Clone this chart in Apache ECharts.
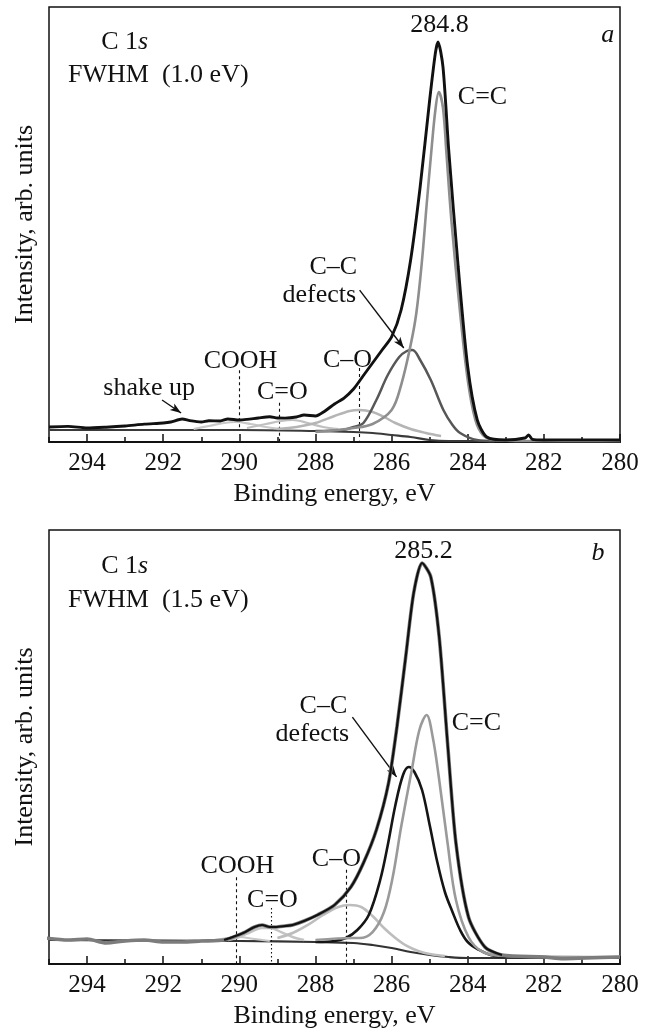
<!DOCTYPE html>
<html><head><meta charset="utf-8">
<script src="https://cdn.jsdelivr.net/npm/echarts@6.0.0/dist/echarts.min.js"></script>
<style>html,body{margin:0;padding:0;background:#fff}#c{width:656px;height:1032px}</style>
</head><body><div id="c"></div>
<script>
// ================= DATA (binding energy eV, intensity arb. units) =================
// ---- panel a ----
const A_RAW_E = [295.0,294.5,294.0,293.5,293.0,292.5,292.0,291.8,291.5,291.3,291.0,290.8,290.5,290.3,290.0,289.8,289.5,289.2,289.0,288.8,288.5,288.3,288.0,287.75,287.5,287.25,287.0,286.75,286.5,286.25,286.0,285.75,285.5,285.25,285.0,284.85,284.78,284.65,284.5,284.25,284.0,283.75,283.5,283.0,282.5,282.4,282.3,282.0,281.0,280.0];
const A_RAW_I = [3.45,3.6,3.22,3.4,3.68,4.1,4.37,4.6,5.29,4.9,4.6,4.9,4.83,5.3,5.06,5.2,5.52,5.8,5.52,5.5,5.75,6.2,5.98,7.13,8.74,10.11,12.18,15.17,18.16,21.15,24.14,30.34,41.84,58.62,78.62,89.43,91.95,86.21,67.13,40.23,17.24,5.06,1.15,0.46,0.92,1.6,0.6,0.46,0.5,0.46];
const A_CC2_E = [288.0,287.0,286.5,286.0,285.75,285.5,285.35,285.2,285.08,284.96,284.85,284.76,284.65,284.56,284.43,284.2,284.0,283.8,283.6,283.3,282.5,280.0];
const A_CC2_I = [2.3,3.22,4.14,7.36,13.1,22.3,29.66,41.84,54.48,66.44,76.32,80.46,76.78,66.44,51.03,29.66,14.25,5.06,1.61,0.46,0.23,0.23];
const A_CC1_E = [288.0,287.3,287.0,286.74,286.4,286.1,285.8,285.6,285.45,285.25,284.97,284.64,284.4,284.2,283.76,283.3];
const A_CC1_I = [2.53,2.76,3.45,4.37,9.66,15.4,19.54,20.92,21.15,18.85,14.25,7.36,3.91,2.07,0.46,0.23];
const A_CO_E = [289.0,288.5,288.0,287.5,287.1,286.85,286.5,286.2,285.9,285.5,285.1,284.7];
const A_CO_I = [2.99,3.45,4.37,5.98,7.13,7.36,6.9,5.75,4.37,2.99,2.07,1.38];
const A_CdO_E = [289.8,289.3,288.9,288.6,288.2,287.8,287.4];
const A_CdO_I = [3.22,4.14,4.83,5.06,4.37,3.45,2.99];
const A_COOH_E = [291.2,290.8,290.4,290.1,289.7,289.3,288.9];
const A_COOH_I = [2.99,3.68,4.37,4.6,4.14,3.45,2.99];
const A_BG_E = [295.0,290.0,288.0,287.0,286.5,286.0,285.5,285.0,284.5,280.0];
const A_BG_I = [2.76,2.76,2.53,2.3,2.07,1.61,1.15,0.46,0.23,0.23];
// ---- panel b ----
const B_RAW_E = [295.1,294.5,294.0,293.5,293.0,292.5,292.0,291.5,291.0,290.4,289.9,289.6,289.4,289.2,289.05,288.8,288.6,288.3,287.95,287.5,287.07,286.74,286.4,286.08,285.86,285.63,285.42,285.2,284.97,284.75,284.53,284.31,283.98,283.55,283.1,282.0,281.5,280.9,280.0];
const B_RAW_I = [5.99,5.53,5.76,4.84,5.3,5.53,5.07,5.07,5.3,5.53,7.14,8.53,8.99,8.53,8.53,8.76,8.99,9.91,11.29,13.59,17.74,23.27,30.88,41.71,54.61,70.74,85.48,92.4,89.17,75.35,50.92,27.88,10.83,3.92,2.07,1.61,1.2,1.38,1.61];
const B_CC2_E = [288.0,287.0,286.84,286.5,286.2,285.97,285.75,285.47,285.27,285.08,284.92,284.76,284.53,284.31,283.98,283.6,283.0,280.0];
const B_CC2_I = [5.53,5.99,5.99,7.37,11.98,20.05,31.57,44.7,53.92,57.37,52.3,43.09,27.88,14.75,6.22,2.76,1.84,1.61];
const B_CC1_E = [288.0,287.5,287.2,286.9,286.6,286.3,286.1,285.9,285.7,285.55,285.4,285.2,285.0,284.8,284.6,284.4,284.2,284.0,283.7,283.4,283.0];
const B_CC1_I = [5.07,5.3,5.99,7.83,11.29,19.35,27.42,36.64,43.55,45.39,44.24,40.09,32.03,23.5,16.59,11.98,7.83,5.07,3.23,2.07,1.61];
const B_CO_E = [289.0,288.6,288.2,287.8,287.4,287.1,286.8,286.5,286.2,285.9,285.6,285.3,285.0,284.6];
const B_CO_I = [5.99,7.14,8.99,11.29,13.13,13.59,13.13,11.06,8.29,5.99,4.15,3.0,2.3,1.84];
const B_CdO_E = [290.3,290.0,289.7,289.4,289.2,288.9,288.6,288.3];
const B_CdO_I = [5.53,6.22,7.37,8.29,8.29,7.37,6.22,5.53];
const B_COOH_E = [290.8,290.3,290.0,289.6,289.2];
const B_COOH_I = [5.3,5.99,6.22,5.76,5.3];
const B_BG_E = [295.0,290.0,288.0,287.0,286.5,286.0,285.5,285.0,284.5,284.0,280.0];
const B_BG_I = [5.53,5.3,5.07,4.84,4.38,3.69,2.76,2.07,1.61,1.38,1.38];
// peak positions / component positions (eV)
const PEAK_A = '284.8', PEAK_B = '285.2';
const GUIDE_A = {COOH: 290.0, CdO: 288.95, CO: 286.85};
const GUIDE_B = {COOH: 290.08, CdO: 289.16, CO: 287.18};
const X_MIN = 280, X_MAX = 295;

// ================= CHART =================
const FONT = "'Liberation Serif','Times New Roman',serif";
const INK = '#111';
const zip = (E, I) => E.map((e, k) => [e, I[k]]);

function grids() {
  return [
    {left: 49, right: 36, top: 7, height: 435, show: true, borderColor: INK, borderWidth: 1.5},
    {left: 49, right: 36, top: 530, height: 434, show: true, borderColor: INK, borderWidth: 1.5}
  ];
}
function xMain(g) {
  return {type: 'value', gridIndex: g, min: X_MIN, max: X_MAX, interval: 2, inverse: true,
    axisLine: {show: true, onZero: false, lineStyle: {color: INK, width: 2}},
    axisTick: {show: true, inside: true, length: 8, lineStyle: {color: INK, width: 1.5}},
    splitLine: {show: false},
    axisLabel: {fontFamily: FONT, fontSize: 25, color: INK, margin: 9, showMaxLabel: false},
    name: 'Binding energy, eV', nameLocation: 'middle', nameGap: 39,
    nameTextStyle: {fontFamily: FONT, fontSize: 26, color: INK}};
}
function xMinor(g) {
  return {type: 'value', gridIndex: g, min: X_MIN, max: X_MAX, interval: 1, inverse: true, position: 'bottom',
    axisLine: {show: false}, axisLabel: {show: false}, splitLine: {show: false},
    axisTick: {show: true, inside: true, length: 5, lineStyle: {color: INK, width: 1.5}}};
}
function yAx(g) {
  return {type: 'value', gridIndex: g, min: 0, max: 100,
    axisLine: {show: false}, axisTick: {show: false}, axisLabel: {show: false}, splitLine: {show: false},
    name: 'Intensity, arb. units', nameLocation: 'middle', nameGap: 11, nameRotate: 90,
    nameTextStyle: {fontFamily: FONT, fontSize: 26, color: INK}};
}
function curve(g, E, I, color, width, z) {
  return {type: 'line', xAxisIndex: g * 2, yAxisIndex: g, data: zip(E, I), showSymbol: false, smooth: 0.35,
    lineStyle: {color: color, width: width}, silent: true, z: z, animation: false};
}
const txt = {fontFamily: FONT, fontSize: 26, color: INK, opacity: 1};
function labels(g, items, arrows, guides) {
  return [{
    type: 'scatter', xAxisIndex: g * 2, yAxisIndex: g, symbolSize: 0, silent: true, z: 20, animation: false,
    itemStyle: {opacity: 1, color: INK},
    data: items.map(it => ({value: [it.x, it.y], label: {show: true, position: 'inside', align: it.align || 'center',
      verticalAlign: 'middle', formatter: it.t, ...txt,
      rich: {it: {fontFamily: FONT, fontSize: 26, color: INK, fontStyle: 'italic'}}}})),
    markLine: {silent: true, animation: false, symbol: ['none', 'arrow'], symbolSize: [6, 11],
      label: {show: false}, lineStyle: {color: INK, width: 1.4, type: 'solid', opacity: 1},
      data: arrows.map(a => [{coord: a[0]}, {coord: a[1]}])}
  }, {
    type: 'line', xAxisIndex: g * 2, yAxisIndex: g, data: [], silent: true, animation: false, z: 3,
    markLine: {silent: true, animation: false, symbol: ['none', 'none'], label: {show: false},
      data: guides.map(d => [{coord: [d.x, d.y0], lineStyle: {color: INK, width: 1.1, type: d.type, opacity: 1}}, {coord: [d.x, d.y1]}])}
  }];
}

const series = [
  // panel a
  curve(0, A_BG_E, A_BG_I, '#3a3a3a', 2.2, 4),
  curve(0, A_COOH_E, A_COOH_I, '#c8c8c8', 2.2, 5),
  curve(0, A_CdO_E, A_CdO_I, '#c0c0c0', 2.2, 5),
  curve(0, A_CO_E, A_CO_I, '#b5b5b5', 2.5, 5),
  curve(0, A_CC1_E, A_CC1_I, '#575757', 2.5, 6),
  curve(0, A_CC2_E, A_CC2_I, '#8e8e8e', 2.6, 7),
  Object.assign(curve(0, A_RAW_E, A_RAW_I, '#111', 2.9, 8), {smooth: 0.25}),
  ...labels(0, [
    {x: 284.74, y: 95.9, t: PEAK_A},
    {x: 280.32, y: 93.6, t: '{it|a}'},
    {x: 293.63, y: 92.0, t: 'C 1{it|s}', align: 'left'},
    {x: 294.5, y: 84.4, t: 'FWHM  (1.0 eV)', align: 'left'},
    {x: 284.26, y: 79.3, t: 'C=C', align: 'left'},
    {x: 287.53, y: 40.2, t: 'C–C'},
    {x: 287.9, y: 33.8, t: 'defects'},
    {x: 289.97, y: 18.6, t: 'COOH'},
    {x: 288.87, y: 11.5, t: 'C=O'},
    {x: 287.16, y: 18.9, t: 'C–O'},
    {x: 292.37, y: 12.4, t: 'shake up'}
  ], [
    [[286.84, 34.9], [285.68, 21.6]],
    [[292.03, 9.66], [291.53, 6.67]]
  ], [
    {x: GUIDE_A.COOH, y0: 16.5, y1: 2.76, type: [3, 3]},
    {x: GUIDE_A.CdO, y0: 9.0, y1: 0, type: [3, 3]},
    {x: GUIDE_A.CO, y0: 17.0, y1: 0.4, type: [3, 3]}
  ]),
  // panel b
  curve(1, B_BG_E, B_BG_I, '#333', 2.2, 4),
  curve(1, B_COOH_E, B_COOH_I, '#c8c8c8', 2, 5),
  curve(1, B_CdO_E, B_CdO_I, '#c4c4c4', 2.4, 5),
  curve(1, B_CO_E, B_CO_I, '#bdbdbd', 2.6, 5),
  curve(1, B_CC1_E, B_CC1_I, '#151515', 2.6, 6),
  curve(1, B_CC2_E, B_CC2_I, '#9a9a9a', 2.6, 7),
  Object.assign(curve(1, B_RAW_E, B_RAW_I, '#7c7c7c', 3.6, 8), {smooth: 0.25}),
  ...labels(1, [
    {x: 285.16, y: 95.2, t: PEAK_B},
    {x: 280.58, y: 94.7, t: '{it|b}'},
    {x: 293.63, y: 91.7, t: 'C 1{it|s}', align: 'left'},
    {x: 294.5, y: 83.9, t: 'FWHM  (1.5 eV)', align: 'left'},
    {x: 284.42, y: 55.5, t: 'C=C', align: 'left'},
    {x: 287.79, y: 59.4, t: 'C–C'},
    {x: 288.08, y: 53.0, t: 'defects'},
    {x: 290.05, y: 22.6, t: 'COOH'},
    {x: 289.13, y: 14.7, t: 'C=O'},
    {x: 287.45, y: 24.2, t: 'C–O'}
  ], [
    [[287.03, 56.9], [285.87, 43.1]]
  ], [
    {x: GUIDE_B.COOH, y0: 20.0, y1: 0, type: [3, 3]},
    {x: GUIDE_B.CdO, y0: 12.9, y1: 0, type: [1.5, 2.5]},
    {x: GUIDE_B.CO, y0: 21.7, y1: 0, type: [3, 3]}
  ])
];
// black envelope drawn over the grey raw trace in panel b (peak region)
const B_ENV_RANGE = [290.4, 283.1];
series.push(Object.assign(curve(1,
  B_RAW_E.filter(e => e <= B_ENV_RANGE[0] && e >= B_ENV_RANGE[1]),
  B_RAW_I.filter((v, k) => B_RAW_E[k] <= B_ENV_RANGE[0] && B_RAW_E[k] >= B_ENV_RANGE[1]),
  '#111', 2.2, 9), {smooth: 0.25}));

const chart = echarts.init(document.getElementById('c'), null, {renderer: 'canvas'});
chart.setOption({
  backgroundColor: '#fff',
  animation: false,
  grid: grids(),
  xAxis: [xMain(0), xMinor(0), xMain(1), xMinor(1)],
  yAxis: [yAx(0), yAx(1)],
  series: series
});
</script></body></html>
